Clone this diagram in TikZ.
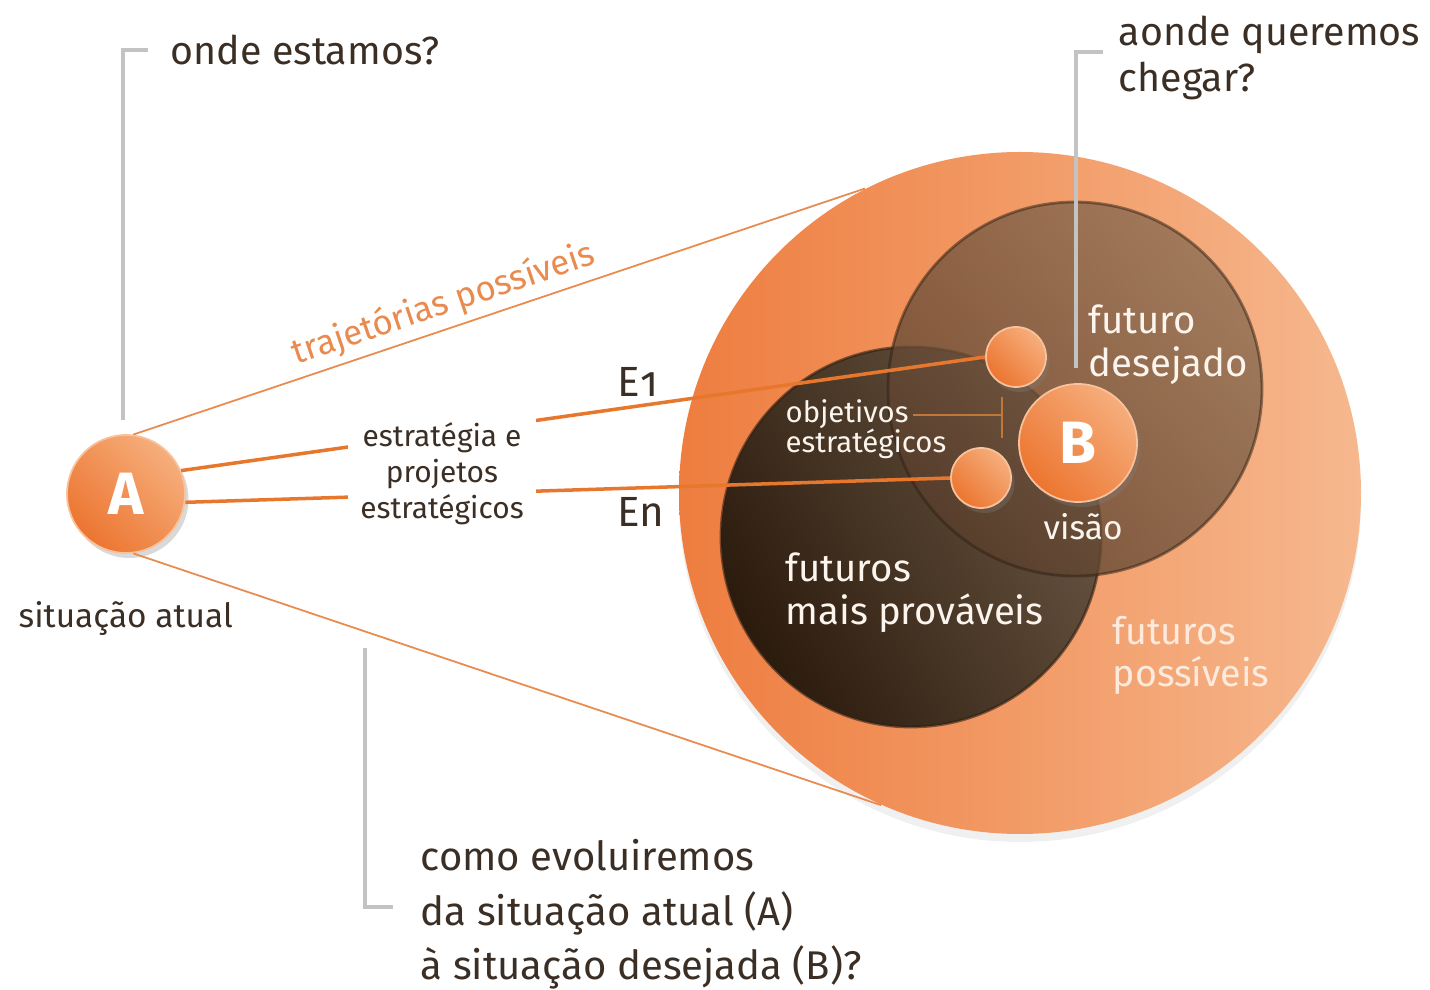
\documentclass[tikz,border=0pt]{standalone}
\usepackage{fontspec}
\setmainfont{Fira Sans}
\newfontfamily\oldfig{Fira Sans}[Numbers=OldStyle]
\usepackage{tikz}
\usetikzlibrary{positioning,shadows}

\definecolor{txtdark}{HTML}{3B2E24}
\definecolor{lineorange}{HTML}{E8772E}
\definecolor{thinorange}{HTML}{E98A4E}
\definecolor{bracketgray}{HTML}{C3C3C3}
\definecolor{bigL}{HTML}{EE7D3F}
\definecolor{bigR}{HTML}{F6B88E}
\definecolor{orbL}{HTML}{F6AE7C}
\definecolor{orbD}{HTML}{EC7530}
\definecolor{orbrim}{HTML}{F8C29C}
\definecolor{desL}{HTML}{8A6C52}
\definecolor{desD}{HTML}{5A3F2C}
\definecolor{mpL}{HTML}{6A5643}
\definecolor{mpD}{HTML}{2B1B0D}
\definecolor{rimdark}{HTML}{2E2014}
\definecolor{paletext}{HTML}{FCEBDD}
\definecolor{whitetext}{HTML}{FBF5EE}
\definecolor{objbrown}{HTML}{C0773A}

\begin{document}
\begin{tikzpicture}[x=0.1mm, y=-0.1mm, font=\fontsize{11.2}{13.2}\selectfont,
  question/.style={anchor=base west, inner sep=0pt, align=left, text=txtdark},
  inlabel/.style={anchor=base west, inner sep=0pt, align=left, text=whitetext,
    font=\fontsize{10.9}{12.4}\selectfont},
  bracket/.style={draw=bracketgray, line width=1.2pt},
  orb/.style={circle, inner sep=0pt, draw=orbrim, line width=0.5pt,
    top color=orbL, bottom color=orbD, shading angle=-45,
    drop shadow={shadow xshift=0.35mm, shadow yshift=-0.5mm, opacity=0.3}},
  bigorb/.style={orb, minimum size=11.8mm, text=white,
    font=\fontsize{17}{17}\selectfont\bfseries},
  smallorb/.style={orb, minimum size=6mm},
  thickline/.style={draw=lineorange, line width=1pt},
  thinline/.style={draw=thinorange, line width=0.5pt},
  objline/.style={draw=objbrown, line width=0.5pt}]
\useasboundingbox (0,0) rectangle (1430,990);

% the three futures
\node[circle, inner sep=0pt, minimum size=68.2mm, left color=bigL, right color=bigR,
  drop shadow={shadow xshift=0mm, shadow yshift=-0.8mm, opacity=0.12}] (big) at (1020,493) {};
\node[circle, inner sep=0pt, minimum size=38mm, top color=mpL, bottom color=mpD,
  shading angle=-60, draw=rimdark, draw opacity=0.6, line width=0.8pt] (futmp) at (911,537) {};
\node[circle, inner sep=0pt, minimum size=37.4mm, top color=desL, bottom color=desD,
  shading angle=-45, fill opacity=0.78, draw=rimdark, draw opacity=0.5, line width=0.8pt] (futdes) at (1075,389) {};

% objectives, vision and current situation
\node[smallorb] (e1) at (1016,357) {};
\node[smallorb] (en) at (981,478) {};
\node[bigorb] (B) at (1078,443) {B};
\node[bigorb] (A) at (126,494) {A};

% trajectories
\draw[thinline] (A.83) -- node[sloped, above=0.6mm, pos=0.435, inner sep=0pt, text=thinorange,
  font=\fontsize{9.9}{12}\selectfont] {trajetórias possíveis} (big.117);
\draw[thinline] (A.277) -- (big.246);
\draw[thickline] (A.23) -- (e1.west);
\draw[thickline] (A.352) -- (en.west);
\node[fill=white, align=center, inner xsep=1.2mm, inner ysep=0.9mm, text=txtdark,
  font=\fontsize{8.5}{10.3}\selectfont] (strat) at (442,474) {estratégia e\\projetos\\estratégicos};
\node[question, font=\fontsize{12}{12}\selectfont] (lblE1) at (617,397) {E{\oldfig 1}};
\node[question, font=\fontsize{12}{12}\selectfont] (lblEn) at (617,527) {En};

% labels inside the circles
\node[inlabel, font=\fontsize{8.35}{8.8}\selectfont] (obj1) at (785,423) {objetivos};
\node[inlabel, font=\fontsize{8.35}{8.8}\selectfont] (obj2) at (785,453) {estratégicos};
\coordinate (objtick) at (1002,417);
\draw[objline] ([xshift=0.4mm]obj1.east) -- (obj1.east -| objtick);
\draw[objline] ([yshift=2mm]objtick) -- ([yshift=-2.1mm]objtick);
\node[inlabel] (lbldes) at (1088,377) {futuro\\desejado};
\node[inlabel] (lblmp) at (785,625) {futuros\\mais prováveis};
\node[inlabel, text=paletext, font=\fontsize{10.7}{12.2}\selectfont] (lblpos) at (1112,687) {futuros\\possíveis};
\node[inlabel, font=\fontsize{9.5}{10}\selectfont] (lblvis) at (1043,540) {visão};

% questions
\node[question] (qonde) at (170,65) {onde estamos?};
\node[question] (qaonde) at (1118,92) {aonde queremos\\chegar?};
\node[question, font=\fontsize{9.5}{11}\selectfont] (lblsit) at (18,628) {situação atual};
\node[question, font=\fontsize{11.4}{15.6}\selectfont] (qcomo) at (420,980)
  {como evoluiremos\\da situação atual (A)\\à situação desejada (B)?};
\draw[bracket] (148,50) -- (123,50) -- (123,420);
\draw[bracket] (1103,52) -- (1076,52) -- (1076,368);
\draw[bracket] (365,648) -- (365,907) -- (393,907);
\end{tikzpicture}
\end{document}
